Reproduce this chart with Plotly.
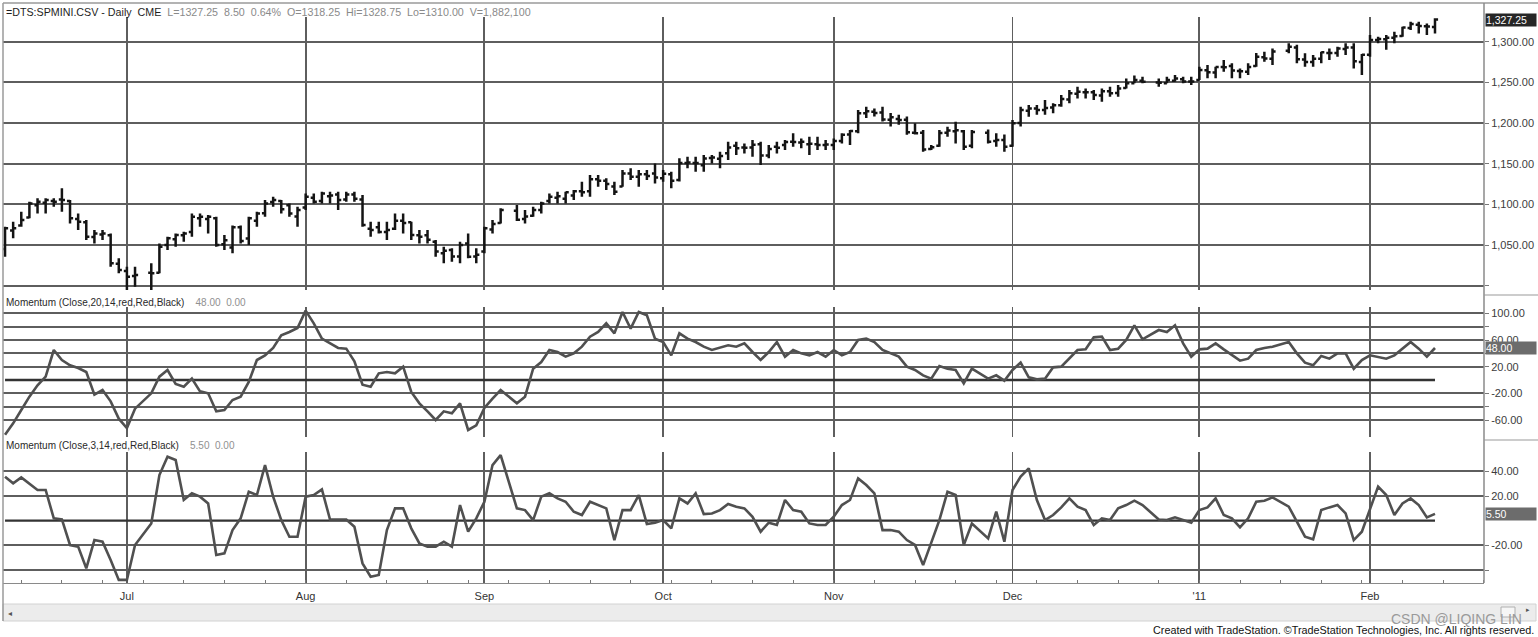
import pandas as pd
import plotly.graph_objects as go

# ---------------- data ----------------
HOLIDAYS = ["2010-07-05", "2010-09-06", "2010-11-25", "2010-12-24", "2011-01-17"]
_bdays = pd.bdate_range("2010-06-10", "2011-02-11")
DATES = [d.strftime("%Y-%m-%d") for d in _bdays if d.strftime("%Y-%m-%d") not in HOLIDAYS]

OPEN = [
    # Jun
    1045, 1068, 1074, 1084, 1099, 1102, 1104, 1106, 1104, 1082, 1078, 1060, 1063, 1062, 1027,
    # Jul
    1018, 1012, 1016, 1016, 1050, 1057, 1062, 1066, 1083, 1082, 1083, 1051, 1047, 1072, 1058, 1080, 1089, 1103, 1104, 1099, 1085,
    # Aug
    1096, 1108, 1104, 1110, 1112, 1106, 1112, 1106, 1070, 1072, 1066, 1070, 1080, 1078, 1062, 1062, 1054, 1040, 1044, 1036, 1052, 1036,
    # Sep
    1042, 1069, 1077, 1092, 1082, 1086, 1093, 1104, 1108, 1107, 1111, 1116, 1116, 1131, 1129, 1122, 1122, 1138, 1134, 1137, 1138,
    # Oct
    1132, 1137, 1130, 1151, 1151, 1148, 1157, 1156, 1163, 1172, 1170, 1170, 1174, 1160, 1171, 1173, 1177, 1176, 1174, 1174, 1173,
    # Nov
    1173, 1178, 1186, 1190, 1212, 1214, 1213, 1204, 1205, 1204, 1188, 1188, 1168, 1172, 1188, 1190, 1190, 1172, 1188, 1178, 1179,
    # Dec
    1172, 1200, 1215, 1218, 1216, 1219, 1222, 1229, 1236, 1238, 1238, 1234, 1239, 1237, 1243, 1249, 1252, 1250, 1249, 1252, 1254, 1251,
    # Jan
    1253, 1265, 1262, 1269, 1270, 1264, 1263, 1270, 1281, 1279, 1289, 1293, 1278, 1275, 1279, 1286, 1286, 1291, 1293, 1275,
    # Feb
    1284, 1302, 1303, 1305, 1307, 1317, 1321, 1319, 1318.25,
]
HIGH = [
    1072.5, 1078.7, 1091.0, 1103.3, 1107.4, 1107.4, 1107.4, 1119.7, 1105.3, 1088.9, 1080.7, 1068.4, 1068.4, 1064.3, 1033.6,
    1023.4, 1023.4, 1027.5, 1052.0, 1060.2, 1064.3, 1066.4, 1088.9, 1088.9, 1086.9, 1084.8, 1062.3, 1074.0, 1074.0, 1084.8, 1091.0, 1105.3, 1109.4, 1105.3, 1101.2, 1097.1,
    1113.5, 1113.5, 1115.6, 1115.6, 1115.6, 1115.6, 1115.6, 1111.5, 1078.7, 1078.7, 1078.7, 1088.9, 1088.9, 1078.7, 1068.4, 1068.4, 1056.1, 1048.0, 1045.9, 1054.1, 1064.3, 1045.9,
    1072.5, 1080.7, 1095.1, 1099.2, 1093.0, 1097.1, 1103.3, 1113.5, 1115.6, 1115.6, 1117.6, 1127.9, 1136.1, 1136.1, 1132.0, 1127.9, 1142.2, 1144.3, 1142.2, 1142.2, 1150.4,
    1142.2, 1140.2, 1156.6, 1158.6, 1158.6, 1160.7, 1160.7, 1164.8, 1177.0, 1177.0, 1175.0, 1179.1, 1177.0, 1173.0, 1177.0, 1179.1, 1187.3, 1181.1, 1183.2, 1183.2, 1179.1,
    1181.0, 1187.3, 1191.4, 1216.0, 1220.1, 1218.0, 1220.1, 1212.3, 1210.2, 1208.2, 1199.6, 1191.4, 1172.9, 1191.4, 1195.5, 1201.6, 1191.4, 1191.4, 1192.0, 1187.3, 1186.0,
    1203.7, 1220.1, 1222.2, 1222.2, 1228.3, 1224.2, 1234.4, 1240.6, 1244.7, 1242.6, 1240.6, 1242.6, 1244.7, 1246.7, 1254.9, 1258.6, 1256.9, 1254.9, 1256.9, 1259.0, 1256.9, 1256.9,
    1269.3, 1271.3, 1269.3, 1277.5, 1273.4, 1267.2, 1273.4, 1286.0, 1287.7, 1291.8, 1298.0, 1296.2, 1285.7, 1283.6, 1287.7, 1291.8, 1293.9, 1298.0, 1298.0, 1285.0,
    1308.2, 1306.0, 1308.2, 1312.3, 1318.4, 1324.5, 1324.5, 1322.5, 1328.75,
]
LOW = [
    1035.7, 1058.2, 1072.5, 1083.0, 1088.9, 1088.9, 1097.1, 1091.0, 1076.6, 1068.4, 1056.1, 1052.0, 1056.1, 1023.4, 1015.2,
    994.7, 998.8, 992.6, 1015.2, 1043.9, 1048.0, 1054.1, 1060.2, 1072.5, 1064.3, 1048.0, 1043.9, 1039.8, 1052.0, 1050.0, 1072.5, 1084.8, 1097.1, 1088.9, 1084.8, 1072.5,
    1093.0, 1101.2, 1101.2, 1101.2, 1093.0, 1103.3, 1103.3, 1072.5, 1060.2, 1064.3, 1056.1, 1068.4, 1064.3, 1056.1, 1052.0, 1052.0, 1035.7, 1027.5, 1029.5, 1027.5, 1033.6, 1027.5,
    1039.8, 1064.3, 1076.6, 1079.5, 1076.6, 1084.8, 1088.9, 1101.2, 1101.2, 1101.2, 1105.3, 1109.4, 1109.4, 1121.7, 1117.6, 1111.5, 1121.7, 1129.9, 1121.7, 1129.9, 1125.8,
    1127.9, 1119.7, 1128.0, 1144.3, 1140.2, 1140.2, 1150.4, 1144.3, 1154.5, 1160.7, 1162.7, 1158.6, 1148.4, 1156.6, 1162.7, 1166.8, 1170.9, 1168.9, 1160.7, 1166.8, 1166.8,
    1166.8, 1175.0, 1173.0, 1187.3, 1206.1, 1208.2, 1201.9, 1195.8, 1197.8, 1185.7, 1186.0, 1164.8, 1166.8, 1170.9, 1183.2, 1175.0, 1166.8, 1168.9, 1175.0, 1170.9, 1164.8,
    1170.9, 1195.8, 1207.8, 1210.2, 1210.2, 1211.9, 1220.1, 1224.2, 1230.3, 1230.3, 1228.3, 1226.2, 1232.4, 1232.4, 1242.6, 1248.8, 1248.8, 1244.7, 1248.8, 1250.8, 1248.8, 1246.7,
    1252.9, 1255.0, 1255.0, 1263.1, 1255.0, 1255.0, 1259.0, 1269.3, 1275.4, 1271.3, 1285.7, 1273.4, 1269.3, 1269.3, 1273.4, 1277.5, 1281.6, 1283.6, 1267.2, 1259.0,
    1281.6, 1298.0, 1290.0, 1298.0, 1306.0, 1314.3, 1310.2, 1308.2, 1310.00,
]
CLOSE = [
    1070.5, 1070.5, 1080.7, 1101.2, 1103.3, 1105.3, 1103.3, 1105.3, 1082.8, 1078.7, 1060.2, 1064.3, 1064.3, 1027.5, 1019.3,
    1011.1, 1013.1, 1015.2, 1048.0, 1058.2, 1062.3, 1064.3, 1084.8, 1084.8, 1084.8, 1050.0, 1056.0, 1072.0, 1055.0, 1082.8, 1088.9, 1101.2, 1105.3, 1094.0, 1088.9, 1093.0,
    1109.4, 1103.3, 1113.5, 1111.0, 1105.3, 1112.0, 1107.0, 1074.6, 1068.4, 1066.0, 1068.4, 1080.0, 1077.0, 1062.3, 1060.2, 1056.5, 1042.0, 1043.0, 1036.0, 1050.0, 1035.7, 1038.0,
    1070.5, 1076.0, 1093.0, 1081.0, 1085.0, 1093.0, 1101.0, 1109.4, 1110.0, 1115.0, 1116.0, 1115.0, 1131.0, 1129.0, 1125.0, 1115.6, 1138.0, 1134.0, 1137.0, 1135.0, 1133.0,
    1137.5, 1129.0, 1151.0, 1151.5, 1151.0, 1156.5, 1157.5, 1159.6, 1170.0, 1169.0, 1169.6, 1173.2, 1160.0, 1168.0, 1169.7, 1176.8, 1176.6, 1177.0, 1174.6, 1173.0, 1173.5,
    1177.8, 1185.7, 1190.3, 1212.0, 1214.6, 1212.5, 1204.4, 1207.0, 1203.6, 1188.7, 1187.3, 1167.6, 1170.3, 1187.8, 1190.8, 1191.1, 1171.0, 1188.9, 1177.0, 1179.1, 1170.9,
    1199.6, 1216.0, 1218.0, 1216.0, 1218.5, 1222.0, 1229.5, 1236.5, 1238.5, 1238.0, 1234.4, 1239.0, 1236.5, 1242.6, 1249.0, 1252.9, 1250.8, 1249.6, 1252.9, 1254.9, 1251.0, 1251.0,
    1265.2, 1262.5, 1269.0, 1268.5, 1264.5, 1263.6, 1269.0, 1281.6, 1279.25, 1288.0, 1293.9, 1278.5, 1275.0, 1279.0, 1287.0, 1286.0, 1291.7, 1293.0, 1276.0, 1284.0,
    1302.0, 1303.5, 1304.8, 1306.6, 1317.5, 1321.75, 1319.3, 1318.75, 1327.25,
]
MOM20 = [
    -82, -65, -45, -25, -8, 5, 45, 30, 22, 18, 12, -22, -15, -32, -58,
    -72, -43, -20, 5, 15, -6, -10, 2, -17, -20, -47, -45, -30, -25, -3, 30, 37, 48, 67, 72, 78,
    104, 85, 62, 55, 48, 47, 28, -7, -10, 10, 12, 10, 20, -18, -35, -47, -60, -47, -50, -35, -75, -68,
    -42, -28, -15, -35, -25, 17, 27, 45, 42, 35, 40, 50, 65, 72, 85, 70, 102, 77, 102, 97, 62,
    57, 37, 70, 62, 57, 50, 45, 48, 52, 50, 55, 42, 30, 42, 57, 35, 45, 40, 37, 42, 35,
    45, 37, 42, 60, 62, 57, 45, 40, 35, 20, 15, 7, 2, 21, 17, 15, -5, 17, 2, 7, -1,
    15, 26, 4, 1, 2, 19, 20, 32, 45, 46, 64, 65, 45, 47, 60, 82, 61, 75, 72, 82, 55, 35,
    46, 47, 55, 46, 37, 29, 32, 45, 48, 50, 57, 40, 26, 22, 36, 32, 40, 40, 17, 30,
    37, 35, 32, 37, 47, 57, 47, 35, 48,
]
MOM3 = [
    35.7, 30.3, 35.1, 30.3, 24.9, 24.9, 1.9, 1.0, -19.7, -21.0, -38.6, -15.7, -17.0, -31.9, -48.0,
    -48.0, -19.7, -2.2, 37.0, 51.9, 49.2, 16.8, 22.2, 19.5, 14.0, -27.8, -26.5, -7.6, 1.9, 23.5, 20.8, 45.1, 19.5, 0.5, -13.0, -13.0,
    19.5, 20.8, 25.4, 1.0, 1.0, 1.0, -4.9, -34.6, -45.4, -44.0, -7.6, 10.0, 10.0, -6.2, -18.4, -21.0, -21.0, -17.0, -21.0, 12.7, -8.9, 1.9,
    15.4, 45.1, 53.2, 10.0, 8.6, 0.5, 19.5, 22.2, 18.1, 15.4, 7.3, 4.6, 15.4, 12.7, 10.0, -15.7, 8.6, 8.6, 20.8, -2.7, -1.6,
    0.5, -6.2, 18.1, 14.0, 22.2, 5.4, 5.9, 8.6, 13.5, 11.4, 10.0, 3.2, -8.9, -1.6, -3.5, 16.8, 8.6, 7.3, -2.2, -3.5, -3.5,
    3.2, 12.7, 16.8, 34.3, 28.9, 22.2, -7.6, -7.6, -8.9, -15.7, -19.7, -36.0, -18.4, 0.5, 23.5, 20.8, -19.7, -2.2, -14.3, 7.3, -17.0,
    24.9, 35.7, 42.4, 16.8, 0.5, 4.6, 10.8, 18.1, 11.4, 8.6, -3.5, 1.9, 0.5, 10.0, 12.7, 16.2, 12.7, 1.0, 0.5, 2.7, 0.5, -1.6,
    8.6, 10.8, 18.1, 4.6, 1.9, -5.4, 1.9, 15.4, 16.2, 18.9, 11.4, -0.8, -13.0, -15.1, 8.6, 10.8, 12.7, 5.9, -15.7, -8.9,
    8.6, 27.6, 20.8, 4.6, 14.0, 18.1, 12.7, 2.7, 5.5,
]
ZERO_LEVEL = 0

MONTH_TICKS = ["2010-07-01", "2010-08-02", "2010-09-01", "2010-10-01", "2010-11-01",
               "2010-12-01", "2011-01-03", "2011-02-01"]
MONTH_LABELS = ["Jul", "Aug", "Sep", "Oct", "Nov", "Dec", "'11", "Feb"]

PRICE_TICKS = [1000, 1050, 1100, 1150, 1200, 1250, 1300]
PRICE_LABELS = ["", "1,050.00", "1,100.00", "1,150.00", "1,200.00", "1,250.00", "1,300.00"]
M20_TICKS = [-60, -40, -20, 20, 40, 60, 80, 100]
M20_LABELS = ["-60.00", "", "-20.00", "20.00", "", "60.00", "", "100.00"]
M3_TICKS = [-40, -20, 20, 40]
M3_LABELS = ["", "-20.00", "20.00", "40.00"]

HEADER_NAME = "=DTS:SPMINI.CSV - Daily  CME"
HEADER_VALUES = "L=1327.25  8.50  0.64%  O=1318.25  Hi=1328.75  Lo=1310.00  V=1,882,100"
M20_NAME = "Momentum (Close,20,14,red,Red,Black)"
M20_VALUES = "48.00  0.00"
M3_NAME = "Momentum (Close,3,14,red,Red,Black)"
M3_VALUES = "5.50  0.00"

# ---------------- geometry helpers ----------------
W, H = 1538, 637
ML, MR, MT, MB = 3, 54, 17, 54
PW, PH = W - ML - MR, H - MT - MB


def px(xp):
    return (xp - ML) / PW


def py(yp):
    return (H - MB - yp) / PH


FONT = "Liberation Sans, Arial, sans-serif"
GRID = "#5e5e5e"
NB = "\u00a0"


def sp(s):
    return s.replace(" ", NB)


fig = go.Figure()

fig.add_trace(go.Ohlc(
    x=DATES, open=OPEN, high=HIGH, low=LOW, close=CLOSE,
    increasing=dict(line=dict(color="#141414", width=2.5)),
    decreasing=dict(line=dict(color="#141414", width=2.5)),
    tickwidth=0.38, xaxis="x", yaxis="y", hoverinfo="skip",
))

fig.add_trace(go.Scatter(x=[DATES[0], DATES[-1]], y=[ZERO_LEVEL, ZERO_LEVEL], mode="lines",
                         line=dict(color="#333333", width=2.3), xaxis="x2", yaxis="y2", hoverinfo="skip"))
fig.add_trace(go.Scatter(x=DATES, y=MOM20, mode="lines", line=dict(color="#505050", width=2.6),
                         xaxis="x2", yaxis="y2", hoverinfo="skip"))
fig.add_trace(go.Scatter(x=[DATES[0], DATES[-1]], y=[ZERO_LEVEL, ZERO_LEVEL], mode="lines",
                         line=dict(color="#333333", width=2.3), xaxis="x3", yaxis="y3", hoverinfo="skip"))
fig.add_trace(go.Scatter(x=DATES, y=MOM3, mode="lines", line=dict(color="#505050", width=2.6),
                         xaxis="x3", yaxis="y3", hoverinfo="skip"))

XRANGE = ["2010-06-09 18:00", "2011-02-21 00:45"]
RB = [dict(bounds=["sat", "mon"])]

common_x = dict(type="date", rangebreaks=RB, range=XRANGE, tickmode="array", tickvals=MONTH_TICKS,
                showgrid=True, gridcolor=GRID, gridwidth=1.8, zeroline=False, automargin=False,
                fixedrange=True)

ydom_top = [py(290), 1.0]
ydom_mid = [py(437), py(307)]
ydom_bot = [0.0, py(452)]

common_y = dict(side="right", showgrid=True, gridcolor=GRID, gridwidth=1.8, zeroline=False,
                tickmode="array", ticks="outside", ticklen=4, tickcolor="#777", tickwidth=1,
                tickfont=dict(family=FONT, size=11, color="#3c3c3c"), automargin=False,
                showline=False, fixedrange=True)

fig.update_layout(
    width=W, height=H, margin=dict(l=ML, r=MR, t=MT, b=MB),
    paper_bgcolor="white", plot_bgcolor="white", showlegend=False, hovermode=False,
    font=dict(family=FONT, color="#333"),
    xaxis=dict(**common_x, anchor="y", matches="x3", showticklabels=False, ticks="",
               rangeslider=dict(visible=False)),
    xaxis2=dict(**common_x, anchor="y2", matches="x3", showticklabels=False, ticks=""),
    xaxis3=dict(**common_x, anchor="y3", ticktext=MONTH_LABELS, showticklabels=True,
                ticks="outside", ticklen=3, tickcolor="rgba(0,0,0,0)",
                tickfont=dict(family=FONT, size=11, color="#333"),
                showline=True, linecolor="#8a8a8a", linewidth=1,
                minor=dict(ticks="inside", ticklen=3, tickcolor="#777", dtick=7 * 86400000,
                           tick0="2010-06-14", showgrid=False)),
    yaxis=dict(**common_y, domain=ydom_top, range=[994.7, 1330.4], tickvals=PRICE_TICKS,
               ticktext=PRICE_LABELS, anchor="x"),
    yaxis2=dict(**common_y, domain=ydom_mid, range=[-85.5, 109.5], tickvals=M20_TICKS,
                ticktext=M20_LABELS, anchor="x2"),
    yaxis3=dict(**common_y, domain=ydom_bot, range=[-50.5, 55.7], tickvals=M3_TICKS,
                ticktext=M3_LABELS, anchor="x3"),
)

ann = []
# panel titles
ann.append(dict(xref="paper", yref="paper", x=px(4), y=py(12), xanchor="left", yanchor="middle",
                showarrow=False, align="left",
                text=f"<span style='color:#1e1e1e'>{sp(HEADER_NAME)}</span>{NB}{NB}"
                     f"<span style='color:#8a8a8a'>{sp(HEADER_VALUES)}</span>",
                font=dict(family=FONT, size=10.7)))
ann.append(dict(xref="paper", yref="paper", x=px(4), y=py(302), xanchor="left", yanchor="middle",
                showarrow=False, align="left",
                text=f"<span style='color:#2a2a2a'>{sp(M20_NAME)}</span>{NB*4}"
                     f"<span style='color:#909090'>{sp(M20_VALUES)}</span>",
                font=dict(family=FONT, size=10)))
ann.append(dict(xref="paper", yref="paper", x=px(4), y=py(445), xanchor="left", yanchor="middle",
                showarrow=False, align="left",
                text=f"<span style='color:#2a2a2a'>{sp(M3_NAME)}</span>{NB*4}"
                     f"<span style='color:#909090'>{sp(M3_VALUES)}</span>",
                font=dict(family=FONT, size=10)))

# last-value boxes on the right axis
for yref, yval, label, bg in [("y", CLOSE[-1], f"{CLOSE[-1]:,.2f}", "#262626"),
                              ("y2", MOM20[-1], f"{MOM20[-1]:.2f}", "#6c6c6c"),
                              ("y3", MOM3[-1], f"{MOM3[-1]:.2f}", "#6c6c6c")]:
    ann.append(dict(xref="paper", yref=yref, x=1.0, y=yval, xanchor="left", yanchor="middle",
                    xshift=1, showarrow=False, text=label, bgcolor=bg, width=50, height=12,
                    align="left", borderpad=0, font=dict(family=FONT, size=10.5, color="white")))

# footer, watermark, scrollbar arrows
ann.append(dict(xref="paper", yref="paper", x=px(1536), y=py(630), xanchor="right", yanchor="middle",
                showarrow=False, text="Created with TradeStation. \u00a9TradeStation Technologies, Inc. All rights reserved.",
                font=dict(family=FONT, size=10.8, color="#111")))
ann.append(dict(xref="paper", yref="paper", x=px(1456), y=py(619), xanchor="center", yanchor="middle",
                showarrow=False, text="CSDN @LIQING LIN",
                font=dict(family=FONT, size=14, color="#9a9a9a")))
ann.append(dict(xref="paper", yref="paper", x=px(10), y=py(613), xanchor="center", yanchor="middle",
                showarrow=False, text="\u25c2", font=dict(family=FONT, size=8, color="#555")))
ann.append(dict(xref="paper", yref="paper", x=px(1528), y=py(610), xanchor="center", yanchor="middle",
                showarrow=False, text="\u25b8", font=dict(family=FONT, size=7, color="#555")))
fig.update_layout(annotations=ann)

shapes = []
# scrollbar band
shapes.append(dict(type="rect", xref="paper", yref="paper", x0=px(3), x1=px(1536), y0=py(621), y1=py(604),
                   fillcolor="#ececec", line=dict(color="#d2d2d2", width=1), layer="below"))
shapes.append(dict(type="rect", xref="paper", yref="paper", x0=px(1501), x1=px(1515), y0=py(617), y1=py(607),
                   fillcolor="#f6f6f6", line=dict(color="#b0b0b0", width=1)))
# frame lines
shapes.append(dict(type="line", xref="paper", yref="paper", x0=px(3), x1=px(1538), y0=py(3), y1=py(3),
                   line=dict(color="#9a9a9a", width=1.5)))
shapes.append(dict(type="line", xref="paper", yref="paper", x0=px(3), x1=px(3), y0=py(3), y1=py(621),
                   line=dict(color="#9a9a9a", width=1.5)))
shapes.append(dict(type="line", xref="paper", yref="paper", x0=1.0, x1=1.0, y0=py(583), y1=py(3),
                   line=dict(color="#8a8a8a", width=1.5)))
for ysep in (295, 440):
    shapes.append(dict(type="line", xref="paper", yref="paper", x0=1.0, x1=px(1538), y0=py(ysep), y1=py(ysep),
                       line=dict(color="#9a9a9a", width=1.2)))
fig.update_layout(shapes=shapes)

fig.write_html("out.html", config={"displayModeBar": False, "staticPlot": True},
               post_script="document.body.style.margin='0';document.body.style.padding='0';"
                           "document.body.style.overflow='hidden';")
